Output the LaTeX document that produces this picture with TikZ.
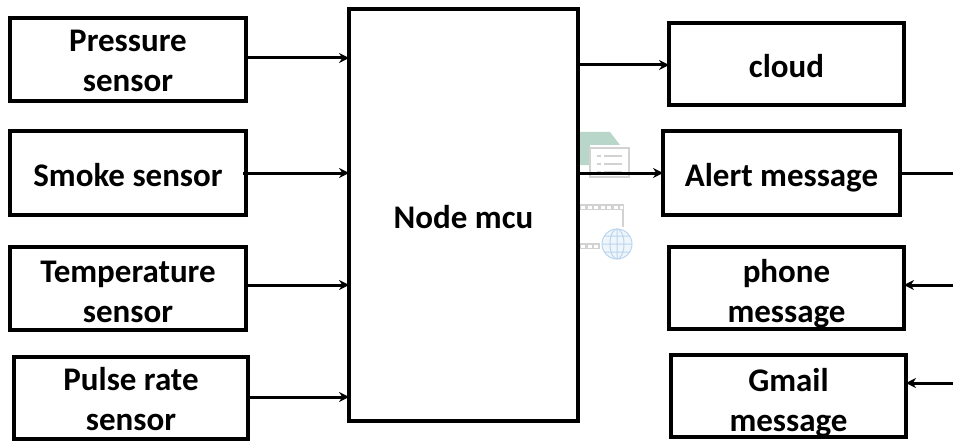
\documentclass[tikz,border=0pt]{standalone}
\usepackage{fontspec}
\setmainfont{Carlito}
\usetikzlibrary{arrows.meta}
\definecolor{ghostgreen}{HTML}{B9D6CB}
\definecolor{ghostgray}{HTML}{D2D2D2}
\definecolor{ghostblue}{HTML}{BCD6EE}
\tikzset{
  x=1pt,y=-1pt,
  blockbox/.style={draw=black,line width=3.1pt,anchor=north west,inner sep=0pt,outer sep=0pt,align=center,
    font=\fontsize{33}{40}\selectfont\bfseries},
  link/.style={line width=3pt,-{Stealth[length=10pt,width=10pt]}},
  plainlink/.style={line width=3pt},
  ghostline/.style={draw=ghostgray,line width=1.6pt},
  ghostband/.style={draw=ghostgray,line width=6.5pt},
  ghostholes/.style={draw=white,line width=3pt,dash pattern=on 4pt off 2.5pt},
  globeline/.style={draw=ghostblue,line width=1pt}
}
% name, left, top, right, bottom, text moved down by, text
\newcommand{\blk}[7]{\node[blockbox,minimum width=#4-#2,minimum height=#5-#3] (#1) at (#2,#3)
  {\raisebox{-#6pt}[\height][\depth]{\begin{tabular}{@{}c@{}}#7\end{tabular}}};}
\begin{document}
\begin{tikzpicture}
\useasboundingbox (0,0) rectangle (953,441);
% faded icons behind the arrows
\fill[ghostgreen] (578,132) -- (610,132) -- (620,145) -- (590,145) -- (590,165) -- (578,165) -- cycle;
\draw[ghostline,fill=white] (590,148) rectangle (629,177);
\foreach \yy in {156,164,172}{
  \draw[ghostgray,line width=1.2pt] (597,\yy) -- (601,\yy) (604,\yy) -- (622,\yy);
}
\draw[ghostband] (580,207) -- (624,207);
\draw[ghostholes] (581,207) -- (623,207);
\draw[ghostline] (623,210) -- (623,227);
\draw[ghostband] (580,246) -- (600,246);
\draw[ghostholes] (581,246) -- (599,246);
\draw[globeline,fill=ghostblue!25] (617,244) circle (15);
\draw[globeline] (617,244) ellipse (7 and 15) (602,244) -- (632,244) (604,236) -- (630,236) (604,252) -- (630,252) (617,229) -- (617,259);
% blocks
\blk{press}{10}{18}{246}{101}{4.5}{Pressure\\sensor}
\blk{smoke}{10}{131}{246}{215}{5}{Smoke sensor}
\blk{temp}{10}{247}{246}{330}{6}{Temperature\\sensor}
\blk{pulse}{14}{357}{248}{439}{4.5}{Pulse rate\\sensor}
\blk{mcu}{349}{9}{578}{421}{5}{Node mcu}
\blk{cloud}{669}{23}{904}{105}{6}{cloud}
\blk{alert}{663}{131}{900}{215}{5}{Alert message}
\blk{phone}{669}{247}{904}{329}{6}{phone\\message}
\blk{gmail}{671}{355}{906}{437}{7}{Gmail\\message}
% free ends
\coordinate (alertout) at (953,173);
\coordinate (phonein) at (953,285);
\coordinate (gmailin) at (953,383);
\coordinate (presssrc) at (246,58);
\coordinate (smokesrc) at (243,173);
\coordinate (tempsrc) at (246,285);
\coordinate (pulsesrc) at (248,397);
\coordinate (alertsrc) at (578,173);
\coordinate (cloudsrc) at (578,65);
% connectors
\draw[link] (presssrc) -- (mcu.west |- presssrc);
\draw[link] (smokesrc) -- (mcu.west |- smokesrc);
\draw[link] (tempsrc) -- (mcu.west |- tempsrc);
\draw[link] (pulsesrc) -- (mcu.west |- pulsesrc);
\draw[link] (cloudsrc) -- (cloud.west |- cloudsrc);
\draw[link] (alertsrc) -- (alert.west |- alertsrc);
\draw[plainlink] (alert.east |- alertout) -- (alertout);
\draw[link] (phonein) -- (phone.east |- phonein);
\draw[link] (gmailin) -- (gmail.east |- gmailin);
\end{tikzpicture}
\end{document}
